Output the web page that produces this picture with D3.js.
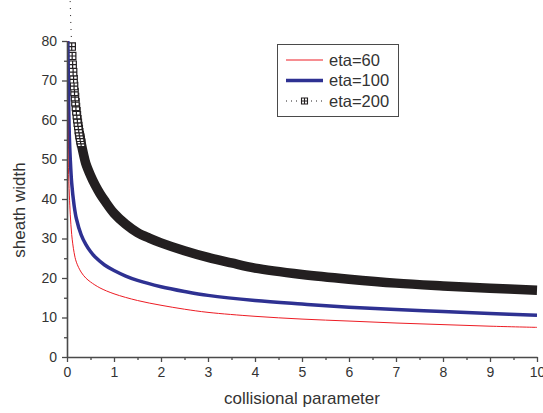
<!DOCTYPE html>
<html>
<head>
<meta charset="utf-8">
<script src="https://cdnjs.cloudflare.com/ajax/libs/d3/7.8.5/d3.min.js"></script>
<style>
  body { margin: 0; background: #fff; }
  svg { display: block; font-family: "Liberation Sans", Arial, sans-serif; }
</style>
</head>
<body>
<div id="chart"></div>
<script>
"use strict";

// values
const xTicks = [0, 1, 2, 3, 4, 5, 6, 7, 8, 9, 10];
const xMinor = [0.5, 1.5, 2.5, 3.5, 4.5, 5.5, 6.5, 7.5, 8.5, 9.5];
const yTicks = [0, 10, 20, 30, 40, 50, 60, 70, 80];
const yMinor = [5, 15, 25, 35, 45, 55, 65, 75];

const redX = [0.005, 0.01, 0.02, 0.03, 0.05, 0.07, 0.1, 0.15, 0.2, 0.3, 0.4, 0.5, 0.7, 1, 1.5, 2, 2.5, 3, 4, 5, 6, 7, 8, 9, 10];
const redY = [80, 68, 55, 48, 41, 36, 31, 26.5, 24, 21.5, 20, 19, 17.5, 16, 14.3, 13.1, 12.1, 11.3, 10.3, 9.6, 9.1, 8.6, 8.2, 7.8, 7.5];

const blueX = [0.018, 0.02, 0.03, 0.04, 0.05, 0.07, 0.1, 0.15, 0.2, 0.3, 0.4, 0.5, 0.6, 0.8, 1, 1.25, 1.5, 2, 2.5, 3, 4, 5, 6, 7, 8, 9, 10];
const blueY = [80, 78, 68, 61, 56, 50, 44, 38.5, 35, 31, 28.5, 26.7, 25.3, 23.3, 21.9, 20.5, 19.4, 17.8, 16.6, 15.6, 14.3, 13.4, 12.6, 12, 11.5, 11, 10.6];

// eta=200: open markers where they are still apart, solid band after
const blackX = [0.05, 0.06, 0.07, 0.08, 0.09, 0.10, 0.11, 0.12, 0.13, 0.14, 0.15, 0.16, 0.17, 0.18, 0.19, 0.20, 0.21, 0.22, 0.23, 0.24, 0.25, 0.26, 0.27, 0.28, 0.29, 0.30,
                0.35, 0.4, 0.5, 0.6, 0.7, 0.8, 1, 1.25, 1.5, 1.75, 2, 2.5, 3, 3.5, 4, 5, 6, 7, 8, 9, 10];
const blackY = [99, 93.7, 88.9, 85, 81.6, 78.6, 76.2, 74.0, 72.1, 70.3, 68.6, 67.1, 65.8, 64.5, 63.3, 62.2, 61.2, 60.2, 59.3, 58.5, 57.7, 56.9, 56.2, 55.5, 54.9, 54.2,
                51.4, 49, 46, 43.5, 41.4, 39.6, 36.4, 33.6, 31.5, 30.1, 28.9, 26.9, 25.2, 23.8, 22.5, 20.9, 19.7, 18.7, 18, 17.4, 16.9];
const blackMarkerEnd = 0.30;

const seriesNames = ["eta=60", "eta=100", "eta=200"];

const width = 543, height = 413;
const margin = {top: 41, right: 6, bottom: 56, left: 67};

const svg = d3.select("#chart").append("svg")
    .attr("width", width)
    .attr("height", height);

const x = d3.scaleLinear().domain([0, 10]).range([margin.left, width - margin.right]);
const y = d3.scaleLinear().domain([0, 80]).range([height - margin.bottom, margin.top]);

const axisColor = "#4a4a4a";
const textColor = "#333";

svg.append("clipPath").attr("id", "plotclip")
  .append("rect")
    .attr("x", margin.left)
    .attr("y", y(80.6))
    .attr("width", width - margin.left - margin.right + 5)
    .attr("height", y(0) - y(80.6));

const zip = (xs, ys) => xs.map((v, i) => [v, ys[i]]);
const line = d3.line().x(d => x(d[0])).y(d => y(d[1])).curve(d3.curveCatmullRom.alpha(0.5));

const blackPts = zip(blackX, blackY);

// dotted connecting line of eta=200 (visible only above the frame)
svg.append("path")
    .attr("d", line(blackPts))
    .attr("fill", "none")
    .attr("stroke", "#231f20")
    .attr("stroke-width", 1)
    .attr("stroke-dasharray", "1,6");

const plot = svg.append("g").attr("clip-path", "url(#plotclip)");

// solid band where markers merge
plot.append("path")
    .attr("d", line(blackPts.filter(d => d[0] >= 0.26)))
    .attr("fill", "none")
    .attr("stroke", "#231f20")
    .attr("stroke-width", 9.5);

const marker = "M-3.7,-3.7h7.4v7.4h-7.4z M0,-3.7v7.4 M-3.7,0h7.4";
plot.append("g")
  .selectAll("path")
  .data(blackPts.filter(d => d[0] <= blackMarkerEnd && d[1] <= 80.5).reverse())
  .join("path")
    .attr("transform", d => `translate(${x(d[0])},${y(d[1])})`)
    .attr("d", marker)
    .attr("fill", "#fff")
    .attr("stroke", "#231f20")
    .attr("stroke-width", 1.2);

plot.append("path")
    .attr("d", line(zip(blueX, blueY)))
    .attr("fill", "none")
    .attr("stroke", "#2e3192")
    .attr("stroke-width", 3.5);

plot.append("path")
    .attr("d", line(zip(redX, redY)))
    .attr("fill", "none")
    .attr("stroke", "#ed1c24")
    .attr("stroke-width", 1);

// axes
svg.append("g")
    .attr("transform", `translate(0,${y(0)})`)
    .call(d3.axisBottom(x).tickValues(xTicks).tickSize(5).tickSizeOuter(0).tickPadding(5));
svg.append("g")
    .attr("transform", `translate(0,${y(0)})`)
    .call(d3.axisBottom(x).tickValues(xMinor).tickSize(3).tickSizeOuter(0).tickFormat(""))
    .select(".domain").remove();

svg.append("g")
    .attr("transform", `translate(${x(0)},0)`)
    .call(d3.axisLeft(y).tickValues(yTicks).tickSize(5).tickSizeOuter(0).tickPadding(5));
svg.append("g")
    .attr("transform", `translate(${x(0)},0)`)
    .call(d3.axisLeft(y).tickValues(yMinor).tickSize(3).tickSizeOuter(0).tickFormat(""))
    .select(".domain").remove();

svg.selectAll(".domain").attr("stroke", axisColor).attr("stroke-width", 1.6);
svg.selectAll(".tick line").attr("stroke", axisColor).attr("stroke-width", 1.3);
svg.selectAll(".tick text")
    .attr("fill", textColor)
    .style("font-size", "14px")
    .style("font-family", "'Liberation Sans', Arial, sans-serif");

svg.append("text")
    .attr("x", (x(0) + x(10)) / 2)
    .attr("y", 404)
    .attr("text-anchor", "middle")
    .attr("fill", textColor)
    .style("font-size", "17px")
    .text("collisional parameter");

svg.append("text")
    .attr("transform", "translate(25,210) rotate(-90)")
    .attr("text-anchor", "middle")
    .attr("fill", textColor)
    .style("font-size", "17px")
    .text("sheath width");

// legend
const legend = svg.append("g");
legend.append("rect")
    .attr("x", 277.5).attr("y", 44.5)
    .attr("width", 121).attr("height", 72)
    .attr("fill", "#fff")
    .attr("stroke", axisColor)
    .attr("stroke-width", 1);

const rowY = [60, 80.5, 101];
legend.append("line")
    .attr("x1", 286).attr("x2", 323).attr("y1", rowY[0]).attr("y2", rowY[0])
    .attr("stroke", "#ed1c24").attr("stroke-width", 1);
legend.append("line")
    .attr("x1", 286).attr("x2", 323).attr("y1", rowY[1]).attr("y2", rowY[1])
    .attr("stroke", "#2e3192").attr("stroke-width", 3.5);
legend.append("line")
    .attr("x1", 286).attr("x2", 323).attr("y1", rowY[2]).attr("y2", rowY[2])
    .attr("stroke", "#231f20").attr("stroke-width", 1).attr("stroke-dasharray", "1,4");
legend.append("path")
    .attr("transform", `translate(304.5,${rowY[2]})`)
    .attr("d", "M-3,-3h6v6h-6z M0,-3v6 M-3,0h6")
    .attr("fill", "#fff")
    .attr("stroke", "#231f20")
    .attr("stroke-width", 1.1);

legend.selectAll("text.lab")
  .data(seriesNames)
  .join("text")
    .attr("class", "lab")
    .attr("x", 329)
    .attr("y", (d, i) => rowY[i])
    .attr("dy", "0.35em")
    .attr("fill", textColor)
    .style("font-size", "16.5px")
    .text(d => d);
</script>
</body>
</html>
